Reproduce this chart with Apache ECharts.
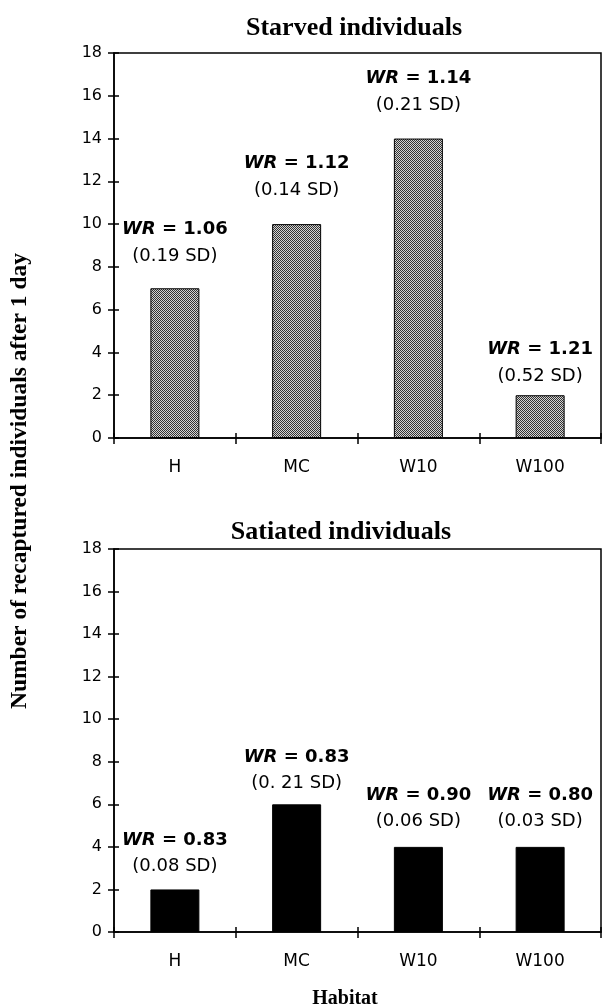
<!DOCTYPE html>
<html><head><meta charset="utf-8">
<script src="https://cdn.jsdelivr.net/npm/echarts@6/dist/echarts.min.js"></script>
<style>html,body{margin:0;padding:0;background:#fff}#c{width:605px;height:1006px}</style>
</head><body><div id="c"></div><script>
// ---- data ----
const categories = ['H', 'MC', 'W10', 'W100'];
const starvedCounts = [7, 10, 14, 2];
const satiatedCounts = [2, 6, 4, 4];
const starvedWR = ['1.06', '1.12', '1.14', '1.21'];
const starvedSD = ['0.19', '0.14', '0.21', '0.52'];
const satiatedWR = ['0.83', '0.83', '0.90', '0.80'];
const satiatedSD = ['0.08', '0. 21', '0.06', '0.03'];
const yMin = 0, yMax = 18, yStep = 2;
const panelTitles = ['Starved individuals', 'Satiated individuals'];
const yAxisTitle = 'Number of recaptured individuals after 1 day';
const xAxisTitle = 'Habitat';

// ---- layout (label gaps in px above bar tops, line heights) ----
const starvedLabelGap = [18.5, 20.5, 20, 5.5];
const satiatedLabelGap = [10, 8, 13, 13];
const starvedLH = 27, satiatedLH = 26;

// stipple pattern for starved bars
const pc = document.createElement('canvas');
pc.width = 2; pc.height = 2;
const g = pc.getContext('2d');
g.fillStyle = '#d4d4d4'; g.fillRect(0, 0, 2, 2);
g.fillStyle = '#333333'; g.fillRect(0, 0, 1, 1); g.fillRect(1, 1, 1, 1);

const sans = 'DejaVu Sans';
function richFor(lh) {
  return {
    wr: { fontFamily: sans, fontSize: 18, fontWeight: 'bold', fontStyle: 'italic', color: '#000', lineHeight: lh },
    eq: { fontFamily: sans, fontSize: 18, fontWeight: 'bold', color: '#000', lineHeight: lh },
    sd: { fontFamily: sans, fontSize: 18, color: '#000', lineHeight: lh }
  };
}

function makeData(vals, wr, sd, gaps, lh) {
  const rich = richFor(lh);
  return vals.map((v, i) => ({
    value: v,
    label: {
      show: true, position: 'top', distance: gaps[i], rich,
      formatter: '{wr|WR}{eq| = ' + wr[i] + '}\n{sd|(' + sd[i] + ' SD)}'
    }
  }));
}

const grids = [
  { left: 114, right: 4, top: 53, height: 385, show: true, borderColor: '#000', borderWidth: 1.5 },
  { left: 114, right: 4, top: 549, height: 383, show: true, borderColor: '#000', borderWidth: 1.5 }
];

const xAxes = [], yAxes = [];
[0, 1].forEach(gi => {
  xAxes.push({
    type: 'category', gridIndex: gi, data: categories, position: 'bottom',
    axisLine: { show: true, lineStyle: { color: '#000', width: 1.5 } },
    axisTick: { show: true, length: 6, lineStyle: { color: '#000', width: 1.5 } },
    axisLabel: { color: '#000', fontFamily: sans, fontSize: 17, margin: 21 },
    splitLine: { show: false }
  });
  xAxes.push({
    type: 'category', gridIndex: gi, data: categories, position: 'bottom',
    axisLine: { show: false },
    axisTick: { show: true, inside: true, length: 5, lineStyle: { color: '#000', width: 1.5 } },
    axisLabel: { show: false }, splitLine: { show: false }
  });
  yAxes.push({
    type: 'value', gridIndex: gi, min: yMin, max: yMax, interval: yStep, position: 'left',
    axisLine: { show: true, lineStyle: { color: '#000', width: 1.5 } },
    axisTick: { show: true, length: 6, lineStyle: { color: '#000', width: 1.5 } },
    axisLabel: { color: '#000', fontFamily: sans, fontSize: 16, margin: 12 },
    splitLine: { show: false }
  });
  yAxes.push({
    type: 'value', gridIndex: gi, min: yMin, max: yMax, interval: yStep, position: 'left',
    axisLine: { show: false },
    axisTick: { show: true, inside: true, length: 5, lineStyle: { color: '#000', width: 1.5 } },
    axisLabel: { show: false }, splitLine: { show: false }
  });
});

const chart = echarts.init(document.getElementById('c'), null, { renderer: 'canvas' });
chart.setOption({
  animation: false,
  backgroundColor: '#fff',
  grid: grids,
  xAxis: xAxes,
  yAxis: yAxes,
  series: [
    {
      type: 'bar', xAxisIndex: 0, yAxisIndex: 0, barWidth: 49,
      itemStyle: { color: { image: pc, repeat: 'repeat' }, borderColor: '#000', borderWidth: 1 },
      data: makeData(starvedCounts, starvedWR, starvedSD, starvedLabelGap, starvedLH)
    },
    {
      type: 'bar', xAxisIndex: 2, yAxisIndex: 2, barWidth: 49,
      itemStyle: { color: '#000', borderColor: '#000', borderWidth: 1 },
      data: makeData(satiatedCounts, satiatedWR, satiatedSD, satiatedLabelGap, satiatedLH)
    }
  ],
  graphic: [
    { type: 'text', x: 354, y: 28, style: { text: panelTitles[0], font: 'bold 26px "Liberation Serif"', fill: '#000', textAlign: 'center', textVerticalAlign: 'middle' } },
    { type: 'text', x: 341, y: 532, style: { text: panelTitles[1], font: 'bold 26px "Liberation Serif"', fill: '#000', textAlign: 'center', textVerticalAlign: 'middle' } },
    { type: 'text', x: 20, y: 481, rotation: Math.PI / 2, style: { text: yAxisTitle, font: 'bold 23.5px "Liberation Serif"', fill: '#000', textAlign: 'center', textVerticalAlign: 'middle' } },
    { type: 'text', x: 345, y: 999, style: { text: xAxisTitle, font: 'bold 20px "Liberation Serif"', fill: '#000', textAlign: 'center', textVerticalAlign: 'middle' } }
  ]
});
</script></body></html>
